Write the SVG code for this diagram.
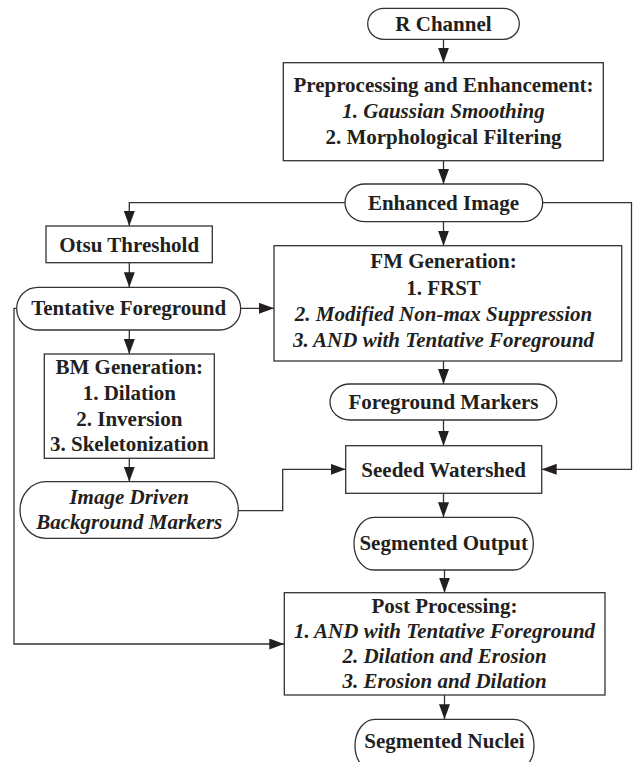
<svg xmlns="http://www.w3.org/2000/svg" width="640" height="762" viewBox="0 0 640 762">
<style>
.s{fill:#fff;stroke:#333;stroke-width:1.3}
.c{fill:none;stroke:#333;stroke-width:1.3}
text{font-family:"Liberation Serif","Times New Roman",serif;font-weight:bold;font-size:21px;fill:#231f20;text-anchor:middle}
.i{font-style:italic}
</style>
<defs>
<marker id="a" markerUnits="userSpaceOnUse" markerWidth="15" markerHeight="11" refX="15" refY="5.5" orient="auto">
<path d="M0,0 L15,5.5 L0,11 z" fill="#231f20"/>
</marker>
</defs>
<rect width="640" height="762" fill="#fff"/>
<g id="connectors" class="c" marker-end="url(#a)">
<path d="M443.5,39.3 V62.7"/>
<path d="M443.5,160.7 V184"/>
<path d="M345,202.7 H129.3 V226"/>
<path d="M542.7,202.7 H631.5 V469.3 H541.7"/>
<path d="M443.5,221.7 V245.7"/>
<path d="M129.3,262.7 V287.3"/>
<path d="M240.7,308.3 H274"/>
<path d="M129.3,330 V354"/>
<path d="M16.7,308.3 H14 V644 H284.3"/>
<path d="M443.5,361 V384"/>
<path d="M129.3,458.3 V481.7"/>
<path d="M238.3,510.7 H282.7 V469.3 H345.7"/>
<path d="M443.5,420 V445.7"/>
<path d="M443.5,493.3 V517.3"/>
<path d="M444.5,570 V592.7"/>
<path d="M444.5,695 V719.3"/>
</g>
<g id="r-channel">
<rect class="s" x="367.7" y="8.3" width="151.6" height="31" rx="16" ry="15.5"/>
<text x="443.5" y="31">R Channel</text>
</g>
<g id="preprocessing">
<rect class="s" x="283.3" y="62.7" width="320" height="98"/>
<text x="443.5" y="92">Preprocessing and Enhancement:</text>
<text class="i" x="443.5" y="118.3">1. Gaussian Smoothing</text>
<text x="443.5" y="144.3">2. Morphological Filtering</text>
</g>
<g id="enhanced-image">
<rect class="s" x="345" y="184" width="197.7" height="37.7" rx="20" ry="18.85"/>
<text x="443.5" y="210">Enhanced Image</text>
</g>
<g id="otsu">
<rect class="s" x="46" y="226" width="166.3" height="36.7"/>
<text x="129.2" y="251.7">Otsu Threshold</text>
</g>
<g id="tentative-foreground">
<rect class="s" x="16.7" y="287.3" width="224" height="42.7" rx="21" ry="21.35"/>
<text x="128.7" y="315">Tentative Foreground</text>
</g>
<g id="fm-generation">
<rect class="s" x="274" y="245.7" width="347.7" height="115.3"/>
<text x="443.5" y="268.3">FM Generation:</text>
<text x="443.5" y="295">1. FRST</text>
<text class="i" x="443.5" y="321.3">2. Modified Non-max Suppression</text>
<text class="i" x="443.5" y="347">3. AND with Tentative Foreground</text>
</g>
<g id="bm-generation">
<rect class="s" x="44.3" y="354" width="170" height="104.3"/>
<text x="129.3" y="374.3">BM Generation:</text>
<text x="129.3" y="400">1. Dilation</text>
<text x="129.3" y="426">2. Inversion</text>
<text x="129.3" y="451">3. Skeletonization</text>
</g>
<g id="foreground-markers">
<rect class="s" x="330" y="384" width="226.7" height="36" rx="20" ry="18"/>
<text x="443.5" y="408.5">Foreground Markers</text>
</g>
<g id="image-driven">
<rect class="s" x="20" y="481.7" width="218.3" height="56.6" rx="26" ry="28.3"/>
<text class="i" x="129.2" y="503.5">Image Driven</text>
<text class="i" x="129.2" y="529">Background Markers</text>
</g>
<g id="seeded-watershed">
<rect class="s" x="345.7" y="445.7" width="196" height="47.6"/>
<text x="443.7" y="476.7">Seeded Watershed</text>
</g>
<g id="segmented-output">
<rect class="s" x="354" y="517.3" width="179.3" height="52.7" rx="20" ry="26.35"/>
<text x="443.7" y="550">Segmented Output</text>
</g>
<g id="post-processing">
<rect class="s" x="284.3" y="592.7" width="320.7" height="102.3"/>
<text x="444.5" y="613.3">Post Processing:</text>
<text class="i" x="444.5" y="638.3">1. AND with Tentative Foreground</text>
<text class="i" x="444.5" y="663.3">2. Dilation and Erosion</text>
<text class="i" x="444.5" y="688.3">3. Erosion and Dilation</text>
</g>
<g id="segmented-nuclei">
<rect class="s" x="355" y="719.3" width="179" height="52.7" rx="20" ry="26.35"/>
<text x="444.5" y="748.3">Segmented Nuclei</text>
</g>
</svg>
